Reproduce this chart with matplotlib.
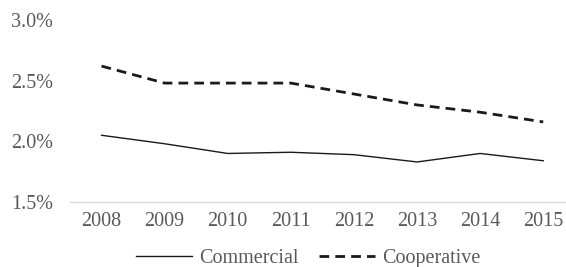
import matplotlib
matplotlib.use("Agg")
import matplotlib.pyplot as plt
from matplotlib.ticker import FuncFormatter

years = ["2008", "2009", "2010", "2011", "2012", "2013", "2014", "2015"]
commercial = [2.05, 1.98, 1.90, 1.91, 1.89, 1.83, 1.90, 1.84]
cooperative = [2.62, 2.48, 2.48, 2.48, 2.39, 2.30, 2.24, 2.16]

plt.rcParams['font.family'] = ['Liberation Serif', 'DejaVu Serif']
grey = '#595959'
fs = 14.5

fig = plt.figure(figsize=(5.66, 2.67), dpi=100)
ax = fig.add_axes([70/566, (267-202)/267, 496/566, 182/267])
x = list(range(len(years)))
ax.plot(x, commercial, color='#1a1a1a', lw=1.0, label='Commercial')
ax.plot(x, cooperative, color='#1a1a1a', lw=2.0, ls=(0, (3.5, 2.2)), label='Cooperative')
ax.set_xlim(-0.5, -0.5 + 496/63.1)
ax.set_ylim(1.5, 3.0)
ax.set_yticks([1.5, 2.0, 2.5, 3.0])
ax.yaxis.set_major_formatter(FuncFormatter(lambda v, p: f"{v:.1f}%"))
ax.set_xticks(x)
ax.set_xticklabels(years)
for s in ['top', 'right', 'left']:
    ax.spines[s].set_visible(False)
ax.spines['bottom'].set_color('#d9d9d9')
ax.spines['bottom'].set_linewidth(1.0)
ax.tick_params(axis='both', length=0, labelsize=fs, labelcolor=grey)
ax.tick_params(axis='y', pad=12)
ax.tick_params(axis='x', pad=7)
h, l = ax.get_legend_handles_labels()
leg = fig.legend(h, l, loc='center', bbox_to_anchor=(308/566, 1 - 258/267), ncol=2, frameon=False,
                 fontsize=fs, handlelength=2.8, columnspacing=1.0, handletextpad=0.35,
                 borderpad=0, borderaxespad=0)
for t in leg.get_texts():
    t.set_color(grey)
fig.savefig("out.png", dpi=100)
